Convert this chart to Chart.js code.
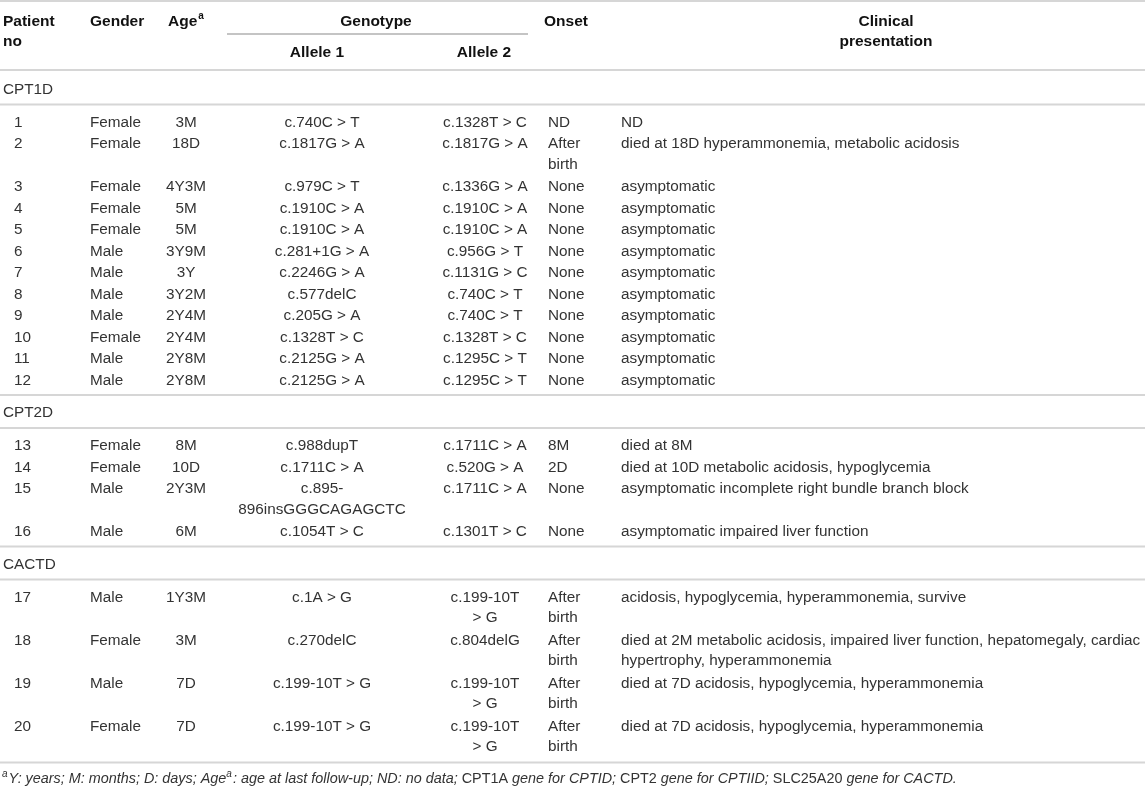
<!DOCTYPE html>
<html>
<head>
<meta charset="utf-8">
<script src="https://cdn.jsdelivr.net/npm/chart.js@4.4.1/dist/chart.umd.min.js"></script>
<style>
  html, body { margin: 0; padding: 0; background: #fff; }
  #wrap { width: 1145px; height: 789px; }
</style>
</head>
<body>
<div id="wrap"><canvas id="table_chart"></canvas></div>
<script>
// table content
const groups = ["CPT1D", "CPT2D", "CACTD"];
const groupOf = [0,0,0,0,0,0,0,0,0,0,0,0, 1,1,1,1, 2,2,2,2];
const patientNo = ["1","2","3","4","5","6","7","8","9","10","11","12","13","14","15","16","17","18","19","20"];
const gender = ["Female","Female","Female","Female","Female","Male","Male","Male","Male","Female","Male","Male",
  "Female","Female","Male","Male", "Male","Female","Male","Female"];
const age = ["3M","18D","4Y3M","5M","5M","3Y9M","3Y","3Y2M","2Y4M","2Y4M","2Y8M","2Y8M",
  "8M","10D","2Y3M","6M", "1Y3M","3M","7D","7D"];
const allele1 = ["c.740C > T","c.1817G > A","c.979C > T","c.1910C > A","c.1910C > A","c.281+1G > A","c.2246G > A",
  "c.577delC","c.205G > A","c.1328T > C","c.2125G > A","c.2125G > A",
  "c.988dupT","c.1711C > A","c.895-\n896insGGGCAGAGCTC","c.1054T > C",
  "c.1A > G","c.270delC","c.199-10T > G","c.199-10T > G"];
const allele2 = ["c.1328T > C","c.1817G > A","c.1336G > A","c.1910C > A","c.1910C > A","c.956G > T","c.1131G > C",
  "c.740C > T","c.740C > T","c.1328T > C","c.1295C > T","c.1295C > T",
  "c.1711C > A","c.520G > A","c.1711C > A","c.1301T > C",
  "c.199-10T\n> G","c.804delG","c.199-10T\n> G","c.199-10T\n> G"];
const onset = ["ND","After\nbirth","None","None","None","None","None","None","None","None","None","None",
  "8M","2D","None","None", "After\nbirth","After\nbirth","After\nbirth","After\nbirth"];
const clinical = ["ND","died at 18D hyperammonemia, metabolic acidosis","asymptomatic","asymptomatic","asymptomatic",
  "asymptomatic","asymptomatic","asymptomatic","asymptomatic","asymptomatic","asymptomatic","asymptomatic",
  "died at 8M","died at 10D metabolic acidosis, hypoglycemia","asymptomatic incomplete right bundle branch block",
  "asymptomatic impaired liver function",
  "acidosis, hypoglycemia, hyperammonemia, survive",
  "died at 2M metabolic acidosis, impaired liver function, hepatomegaly, cardiac\nhypertrophy, hyperammonemia",
  "died at 7D acidosis, hypoglycemia, hyperammonemia","died at 7D acidosis, hypoglycemia, hyperammonemia"];
const headerTop = ["Patient\nno", "Gender", "Age", "Genotype", "Onset", "Clinical\npresentation"];
const headerSub = ["Allele 1", "Allele 2"];
// footnote pieces: [text, italic, superscript]
const footnote = [["a",1,1],["Y: years; M: months; D: days; Age",1,0],["a",1,1],[": age at last follow-up; ND: no data; ",1,0],
  ["CPT1A",0,0],[" gene for CPTID; ",1,0],["CPT2",0,0],[" gene for CPTIID; ",1,0],["SLC25A20",0,0],[" gene for CACTD.",1,0]];

// layout (pixels in a 1145 x 789 value space)
const FAM = '"Liberation Sans", Arial, Helvetica, sans-serif';
const bodyFont = '15.3px ' + FAM, headFont = 'bold 15.5px ' + FAM;
const bodyColor = '#333333', headColor = '#111111';
const ruleColor = '#d6d6d6';
const rowStep = 21.5, wrapStep = 20.5;
// column anchors: [x, align]
const cols = [[14,'left'],[90,'left'],[186,'center'],[322,'center'],[485,'center'],[548,'left'],[621,'left']];

const cells = [];
const rules = [];
function cell(x, y, t, align, font, color, sup) {
  cells.push({ x: x, y: y, t: t, align: align, font: font, color: color, sup: sup });
}
function rule(y, x0, x1, c, w) {
  rules.push({ y: y, x0: x0, x1: x1, c: c, w: w });
}
// header
rule(1, 0, 1145, ruleColor, 2);
cell(3, 20, headerTop[0], 'left', headFont, headColor);
cell(90, 20, headerTop[1], 'left', headFont, headColor);
cell(168, 20, headerTop[2], 'left', headFont, headColor, 'a');
cell(376, 20, headerTop[3], 'center', headFont, headColor);
cell(544, 20, headerTop[4], 'left', headFont, headColor);
cell(886, 20, headerTop[5], 'center', headFont, headColor);
cell(317, 51, headerSub[0], 'center', headFont, headColor);
cell(484, 51, headerSub[1], 'center', headFont, headColor);
rule(34, 227, 528, '#8a8a8a', 1.2);
let lineY = 70;
rule(lineY, 0, 1145, ruleColor, 2);

// body rows, grouped
groups.forEach((g, gi) => {
  const labelY = lineY + (gi === 0 ? 18 : 16.5);
  cell(3, labelY, g, 'left', bodyFont, bodyColor);
  lineY = labelY + 16.5;
  rule(lineY, 0, 1145, ruleColor, 2);
  let y = lineY + 16.5;
  let last = y;
  patientNo.forEach((p, i) => {
    if (groupOf[i] !== gi) return;
    const vals = [p, gender[i], age[i], allele1[i], allele2[i], onset[i], clinical[i]];
    let n = 1;
    vals.forEach((v, k) => {
      cell(cols[k][0], y, v, cols[k][1], bodyFont, bodyColor);
      n = Math.max(n, v.split('\n').length);
    });
    last = y + rowStep * (n - 1);
    y += rowStep * n;
  });
  lineY = last + 16;
  rule(lineY, 0, 1145, ruleColor, 2);
});
const footY = lineY + 15.5;

// chart.js datasets: one line dataset per rule, one invisible scatter dataset for text cells
const datasets = rules.map(r => ({
  type: 'line',
  data: [{ x: r.x0, y: r.y }, { x: r.x1, y: r.y }],
  borderColor: r.c,
  borderWidth: r.w,
  pointRadius: 0,
  showLine: true,
  clip: false
}));
datasets.push({
  type: 'scatter',
  data: cells.map(c => ({ x: c.x, y: c.y })),
  pointRadius: 0,
  clip: false
});
datasets.push({
  type: 'scatter',
  data: [{ x: 2, y: footY }],
  pointRadius: 0,
  clip: false
});
const cellSet = datasets.length - 2, footSet = datasets.length - 1;

const cellText = {
  id: 'cellText',
  afterDatasetsDraw(chart) {
    const ctx = chart.ctx;
    ctx.save();
    chart.getDatasetMeta(cellSet).data.forEach((el, i) => {
      const c = cells[i];
      ctx.font = c.font;
      ctx.fillStyle = c.color;
      ctx.textAlign = c.align;
      ctx.textBaseline = 'alphabetic';
      c.t.split('\n').forEach((line, k) => {
        const by = el.y + k * wrapStep + 5.5;
        ctx.fillText(line, el.x, by);
        if (c.sup) {
          const w = ctx.measureText(line).width;
          ctx.save();
          ctx.font = 'bold 10px ' + FAM;
          ctx.textAlign = 'left';
          ctx.fillText(c.sup, el.x + w + 1, by - 7);
          ctx.restore();
        }
      });
    });
    // footnote
    const fe = chart.getDatasetMeta(footSet).data[0];
    let fx = fe.x;
    ctx.textAlign = 'left';
    ctx.fillStyle = bodyColor;
    footnote.forEach(seg => {
      const size = seg[2] ? 10 : 14.4;
      ctx.font = (seg[1] ? 'italic ' : '') + size + 'px ' + FAM;
      ctx.fillText(seg[0], fx, fe.y + 5 - (seg[2] ? 6 : 0));
      fx += ctx.measureText(seg[0]).width + (seg[2] ? 1 : 0);
    });
    ctx.restore();
  }
};

const table_ctx = document.getElementById('table_chart').getContext('2d');
const table_chart = new Chart(table_ctx, {
  type: 'scatter',
  data: { datasets: datasets },
  options: {
    responsive: true,
    maintainAspectRatio: false,
    animation: false,
    events: [],
    layout: { padding: 0 },
    plugins: { legend: { display: false }, tooltip: { enabled: false } },
    scales: {
      x: { type: 'linear', min: 0, max: 1145, display: false },
      y: { type: 'linear', min: 0, max: 789, reverse: true, display: false }
    }
  },
  plugins: [cellText]
});
</script>
</body>
</html>
